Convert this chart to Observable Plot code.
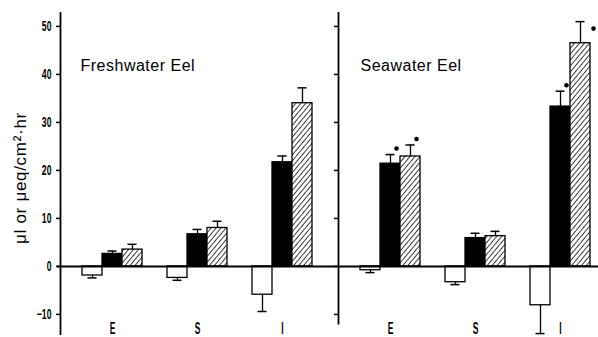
<!DOCTYPE html>
<html>
<head>
<meta charset="utf-8">
<script src="https://cdn.jsdelivr.net/npm/d3@7"></script>
<script src="https://cdn.jsdelivr.net/npm/@observablehq/plot@0.6"></script>
<style>
  html, body { margin: 0; padding: 0; background: #fff; }
  svg { display: block; }
</style>
</head>
<body>
<div id="chart"></div>
<script>
// ---- data ----
const panels = ["Freshwater Eel", "Seawater Eel"];
const groups = ["E", "S", "I"];
const series = ["control", "treatA", "treatB"]; // white, black, hatched

// values [group][series]
const fwValues = [[-1.9, 2.6, 3.5], [-2.4, 6.7, 8.0], [-5.9, 21.7, 34.0]];
const fwErrors = [[0.5, 0.6, 1.1], [0.5, 1.0, 1.4], [3.5, 1.3, 3.2]];
const swValues = [[-0.8, 21.4, 22.9], [-3.3, 5.9, 6.3], [-8.1, 33.3, 46.5]];
const swErrors = [[0.5, 1.9, 2.4], [0.5, 1.0, 1.0], [5.9, 3.2, 4.5]];
const swSignificant = [[false, true, true], [false, false, false], [false, true, true]];
const yTicks = [-10, 0, 10, 20, 30, 40, 50];
const yLabel = "μl or μeq/cm²·hr";

// ---- layout constants (px units in x scale) ----
const barW = 20, groupStep = 85, panelStep = 278, firstBar = 22;
const fills = ["white", "black", "url(#hatch)"];

const rows = [];
[[fwValues, fwErrors, null], [swValues, swErrors, swSignificant]].forEach(([vals, errs, sig], p) => {
  groups.forEach((g, gi) => {
    series.forEach((s, si) => {
      const x1 = p * panelStep + firstBar + gi * groupStep + si * barW;
      const v = vals[gi][si], e = errs[gi][si];
      rows.push({
        panel: panels[p], group: g, series: s, si,
        x1, x2: x1 + barW, xc: x1 + barW / 2,
        value: v, errEnd: v >= 0 ? v + e : v - e,
        sig: sig ? sig[gi][si] : false
      });
    });
  });
});
const groupLabels = [];
panels.forEach((pn, p) => groups.forEach((g, gi) => groupLabels.push({
  label: g, x: p * panelStep + firstBar + gi * groupStep + 1.5 * barW
})));
const titles = panels.map((t, p) => ({title: t, x: p * panelStep + 20 + p * 2}));
const sigRows = rows.filter(d => d.sig);
const capW = 4.5;

const chart = Plot.plot({
  width: 598,
  height: 337,
  marginLeft: 60,
  marginRight: 0,
  marginTop: 12,
  marginBottom: 2,
  x: {domain: [0, 538], axis: null},
  y: {domain: [-14.4, 52.9], axis: null},
  style: {background: "white", fontFamily: "'Liberation Sans', Arial, sans-serif"},
  marks: [
    // bars
    Plot.rect(rows, {x1: "x1", x2: "x2", y1: 0, y2: "value",
      fill: d => fills[d.si], stroke: "black", strokeWidth: 1.3}),
    // error stems
    Plot.ruleX(rows, {x: "xc", y1: "value", y2: "errEnd", stroke: "black", strokeWidth: 1.3}),
    // error caps
    Plot.ruleY(rows, {y: "errEnd", x1: d => d.xc - capW, x2: d => d.xc + capW, stroke: "black", strokeWidth: 1.5}),
    // significance marks
    Plot.dot(sigRows, {x: d => d.xc + 6, y: "errEnd", dy: -6, r: 2.3, fill: "black", stroke: null,
      filter: d => d.errEnd <= 48}),
    Plot.dot(sigRows, {x: d => d.xc + 13, y: "errEnd", dy: 7, r: 2.3, fill: "black", stroke: null,
      filter: d => d.errEnd > 48}),
    // zero line
    Plot.ruleY([0], {x1: -3, x2: 538, stroke: "black", strokeWidth: 2}),
    // axes lines
    Plot.ruleX([0], {stroke: "black", strokeWidth: 1.8}),
    Plot.ruleX([panelStep], {y1: -12.2, y2: 52.9, stroke: "black", strokeWidth: 1.8}),
    // left axis ticks + labels
    Plot.axisY(yTicks, {anchor: "left", tickSize: 4, tickPadding: 5, stroke: "black", strokeWidth: 1.5,
      fontSize: 14, fontWeight: "bold", className: "ytl"}),
    // right panel ticks (no labels)
    Plot.ruleY(yTicks, {x1: panelStep - 4, x2: panelStep, stroke: "black", strokeWidth: 1.5}),
    // group labels
    Plot.text(groupLabels, {x: "x", frameAnchor: "bottom", lineAnchor: "bottom", dy: -2,
      text: "label", fontSize: 17, fontWeight: "bold", fill: "black", className: "grp"}),
    // panel titles
    Plot.text(titles, {x: "x", y: 41.7, text: "title", textAnchor: "start",
      fontSize: 16, fill: "black", className: "ttl"})
  ]
});

// hatch pattern
const defs = document.createElementNS("http://www.w3.org/2000/svg", "defs");
defs.innerHTML = `<pattern id="hatch" patternUnits="userSpaceOnUse" width="3.8" height="3.8" patternTransform="rotate(40)">
  <rect width="3.8" height="3.8" fill="white"></rect>
  <line x1="0" y1="0" x2="0" y2="3.8" stroke="black" stroke-width="1.5"></line></pattern>`;
chart.insertBefore(defs, chart.firstChild);

// y label
const lab = document.createElementNS("http://www.w3.org/2000/svg", "text");
lab.setAttribute("transform", "translate(26,178) rotate(-90)");
lab.setAttribute("text-anchor", "middle");
lab.setAttribute("font-size", "17");
lab.setAttribute("letter-spacing", "0.7");
lab.setAttribute("font-family", "'Liberation Sans', Arial, sans-serif");
lab.setAttribute("fill", "black");
lab.textContent = yLabel;
chart.appendChild(lab);

// condense bold tick / group labels
function condense(sel, k) {
  chart.querySelectorAll(sel).forEach(t => {
    const tr = t.getAttribute("transform");
    if (tr) t.setAttribute("transform", tr + ` scale(${k},1)`);
    else {
      const x = +t.getAttribute("x") || 0, y = +t.getAttribute("y") || 0;
      t.setAttribute("transform", `translate(${x},${y}) scale(${k},1)`);
      t.removeAttribute("x"); t.removeAttribute("y");
    }
  });
}
condense(".ytl text", 0.62);
condense(".grp text", 0.5);
chart.querySelectorAll(".ttl text").forEach(t => t.setAttribute("letter-spacing", "0.5"));

document.getElementById("chart").appendChild(chart);
</script>
</body>
</html>
